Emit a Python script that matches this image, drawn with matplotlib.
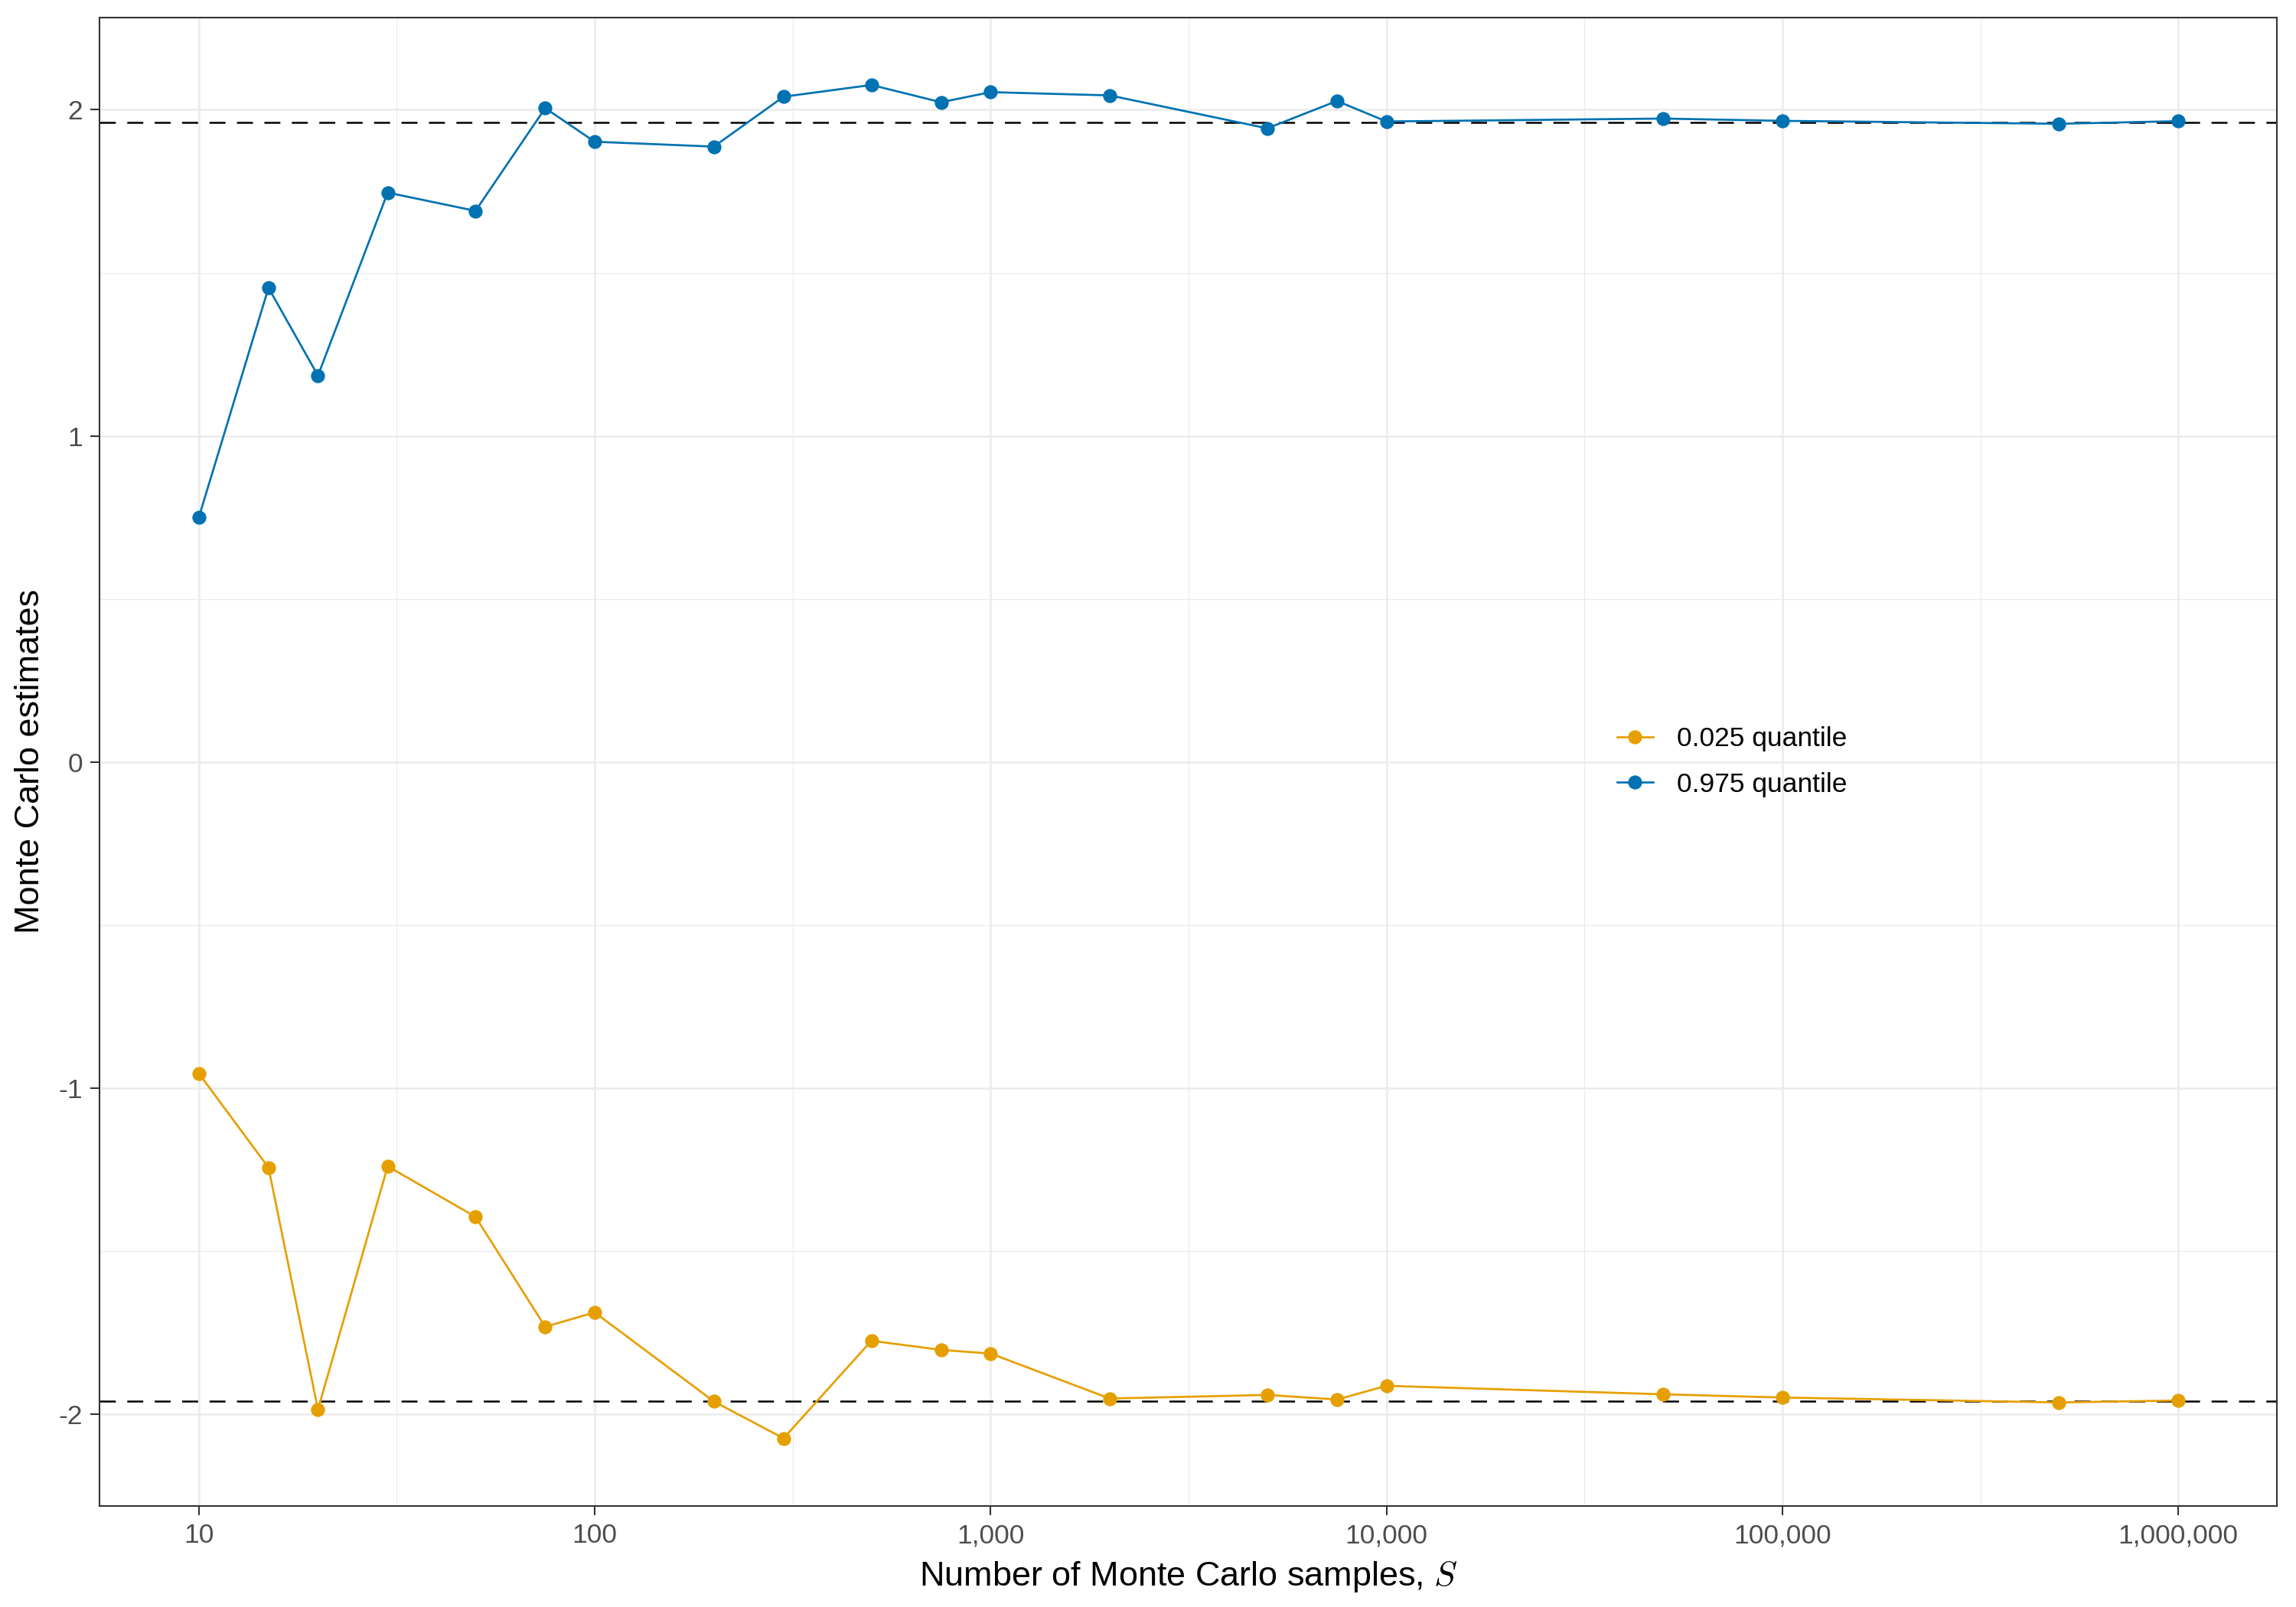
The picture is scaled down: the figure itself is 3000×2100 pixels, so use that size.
import numpy as np
import matplotlib
matplotlib.use("Agg")
import matplotlib.pyplot as plt
from matplotlib.ticker import FixedLocator, FuncFormatter, NullFormatter

# ---- data ----
samples = [10, 15, 20, 30, 50, 75, 100, 200, 300, 500, 750, 1000, 2000,
           5000, 7500, 10000, 50000, 100000, 500000, 1000000]
q025 = [-0.954, -1.243, -1.985, -1.239, -1.394, -1.731, -1.687, -1.960,
        -2.073, -1.774, -1.802, -1.813, -1.951, -1.940, -1.954, -1.912,
        -1.938, -1.948, -1.963, -1.957]
q975 = [0.750, 1.454, 1.185, 1.746, 1.690, 2.005, 1.902, 1.887, 2.040,
        2.076, 2.023, 2.054, 2.044, 1.943, 2.027, 1.964, 1.973, 1.966,
        1.957, 1.965]
ref_lines = [-1.96, 1.96]
series_labels = ["0.025 quantile", "0.975 quantile"]
series_colors = ["#E69F00", "#0072B2"]
x_ticks = [10, 100, 1000, 10000, 100000, 1000000]
y_ticks = [-2, -1, 0, 1, 2]
xlabel = r"Number of Monte Carlo samples, $S$"
ylabel = "Monte Carlo estimates"

plt.rcParams["font.family"] = ["Liberation Sans", "DejaVu Sans"]
plt.rcParams["mathtext.fontset"] = "cm"
plt.rcParams["lines.scale_dashes"] = False

fig = plt.figure(figsize=(10, 7), dpi=300)
ax = fig.add_axes([0.04347, 0.06286, 0.99183 - 0.04347, 0.98924 - 0.06286])

ax.set_axisbelow(True)
for v in ref_lines:
    ax.axhline(v, color="black", lw=0.6, dashes=(5, 3.6), zorder=2)

for vals, lab, col in zip([q025, q975], series_labels, series_colors):
    ax.plot(samples, vals, color=col, lw=0.65, marker="o", ms=4.4,
            markeredgewidth=0, label=lab, zorder=3)

ax.set_xscale("log")
lx = np.log10([min(samples), max(samples)])
ex = 0.05 * (lx[1] - lx[0])
ax.set_xlim(10 ** (lx[0] - ex), 10 ** (lx[1] + ex))
allv = q025 + q975
ey = 0.05 * (max(allv) - min(allv))
ax.set_ylim(min(allv) - ey, max(allv) + ey)

ax.xaxis.set_major_locator(FixedLocator(x_ticks))
ax.xaxis.set_major_formatter(FuncFormatter(lambda v, p: f"{int(round(v)):,}"))
minor_x = [10 ** (np.log10(x_ticks[i]) + 0.5) for i in range(len(x_ticks) - 1)]
ax.xaxis.set_minor_locator(FixedLocator(minor_x))
ax.xaxis.set_minor_formatter(NullFormatter())
ax.yaxis.set_major_locator(FixedLocator(y_ticks))
ax.yaxis.set_minor_locator(FixedLocator([t + 0.5 for t in y_ticks[:-1]]))
ax.yaxis.set_major_formatter(FuncFormatter(lambda v, p: f"{int(v)}"))

ax.grid(which="major", color="#EBEBEB", lw=0.6)
ax.grid(which="minor", color="#EBEBEB", lw=0.3)

ax.tick_params(which="major", length=2.8, width=0.5, color="#333333",
               labelcolor="#4D4D4D", labelsize=8.5, pad=2.6)
ax.tick_params(which="minor", length=0)
for s in ax.spines.values():
    s.set_color("#333333")
    s.set_linewidth(0.5)

ax.set_xlabel(xlabel, fontsize=10.8, labelpad=3.5)
ax.set_ylabel(ylabel, fontsize=10.8, labelpad=4)

leg = ax.legend(loc="center left", bbox_to_anchor=(0.6855, 0.5), frameon=False,
                fontsize=8.5, handlelength=1.35, handletextpad=0.85,
                labelspacing=0.75)

fig.savefig("out.png", dpi=300, facecolor="white")
